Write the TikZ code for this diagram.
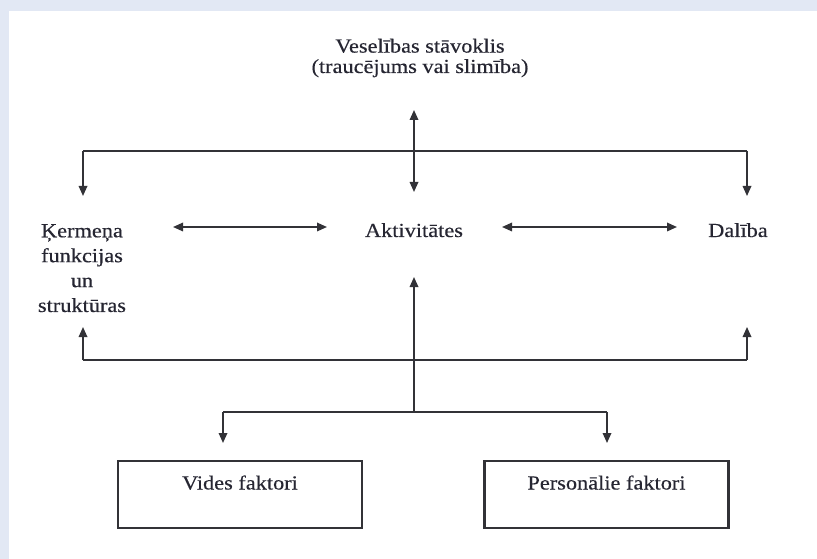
\documentclass[tikz,border=0pt]{standalone}
\usepackage{fontspec}
\setmainfont{Liberation Serif}[FakeStretch=1.12,FakeBold=0.4]
\usetikzlibrary{arrows.meta}
\definecolor{bgblue}{RGB}{226,232,244}
\definecolor{ink}{RGB}{38,38,50}
\definecolor{linec}{RGB}{50,50,55}
\begin{document}
\begin{tikzpicture}[x=1bp,y=-1bp,
  lbl/.style={font=\fontsize{20}{25}\selectfont, text=ink, inner sep=0pt, align=center},
  conn/.style={draw=linec, line width=1.7bp},
  tip/.style={-{Triangle[length=10bp,width=8.5bp]}},
  dtip/.style={{Triangle[length=10bp,width=8.5bp]}-{Triangle[length=10bp,width=8.5bp]}},
  factor/.style={draw=linec, line width=2.2bp, minimum width=244bp, minimum height=67bp,
    inner sep=0pt, text height=15bp, text depth=25bp, font=\fontsize{20}{25}\selectfont, text=ink}]
\useasboundingbox (0,0) rectangle (817,559);
\fill[bgblue] (0,0) rectangle (817,559);
\fill[white] (9,11) rectangle (817,559);

% texts (base anchor = baseline of the last line)
\node[lbl, anchor=base, font=\fontsize{20}{20.5}\selectfont] (health) at (420,73)
  {Veselības stāvoklis\\(traucējums vai slimība)};
\node[lbl, anchor=base] (body) at (82,312) {Ķermeņa\\funkcijas\\un\\struktūras};
\node[lbl, anchor=base] (act) at (414,237) {Aktivitātes};
\node[lbl, anchor=base] (part) at (738,237) {Dalība};
\node[factor] (env) at (240,494.5) {Vides faktori};
\node[factor] (pers) at (606.5,494.5) {Personālie faktori};

% connector points
\coordinate (hTop) at (414,110);
\coordinate (actTop) at (414,192);
\coordinate (tl) at (83,151);
\coordinate (tr) at (747,151);
\coordinate (bodyTop) at (83,196);
\coordinate (partTop) at (747,196);
\coordinate (bodyR) at (173,227);
\coordinate (actL) at (327,227);
\coordinate (actR) at (502,227);
\coordinate (partL) at (677,227);
\coordinate (bl) at (83,360);
\coordinate (br) at (747,360);
\coordinate (bodyBot) at (83,327);
\coordinate (partBot) at (747,327);
\coordinate (actBot) at (414,277);
\coordinate (lowHub) at (414,412);
\coordinate (ll) at (223,412);
\coordinate (lr) at (607,412);
\coordinate (envTop) at (223,443);
\coordinate (persTop) at (607,443);

% connectors
\draw[conn,dtip] (hTop) -- (actTop);
\draw[conn,tip] (tl) -- (bodyTop);
\draw[conn] (tl) -- (tr);
\draw[conn,tip] (tr) -- (partTop);
\draw[conn,dtip] (bodyR) -- (actL);
\draw[conn,dtip] (actR) -- (partL);
\draw[conn,tip] (bl) -- (bodyBot);
\draw[conn] (bl) -- (br);
\draw[conn,tip] (br) -- (partBot);
\draw[conn,tip] (lowHub) -- (actBot);
\draw[conn] (ll) -- (lr);
\draw[conn,tip] (ll) -- (envTop);
\draw[conn,tip] (lr) -- (persTop);
\end{tikzpicture}
\end{document}
